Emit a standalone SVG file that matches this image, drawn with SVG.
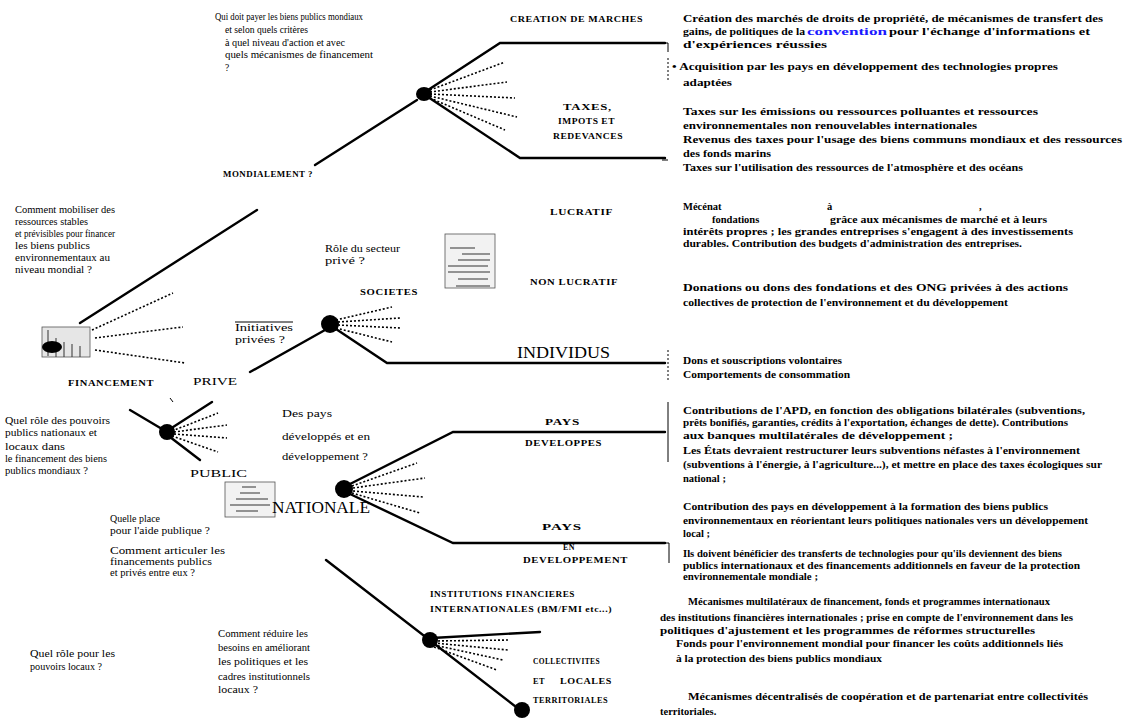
<svg xmlns="http://www.w3.org/2000/svg" width="1135" height="718" viewBox="0 0 1135 718">
<style>
.bg{fill:#fff}
.sl{stroke:#000;stroke-width:2.4;fill:none;stroke-linecap:round}
.dl{stroke:#000;stroke-width:1.6;fill:none;stroke-dasharray:2 2}
.th{stroke:#000;stroke-width:1;fill:none}
.nd{fill:#000}
.rt{font-family:"Liberation Serif",serif;font-size:10.5px;font-weight:bold;fill:#000}
.nt{font-family:"Liberation Serif",serif;font-size:9.5px;fill:#000}
.lb{font-family:"Liberation Serif",serif;font-size:9px;font-weight:bold;fill:#000;letter-spacing:0.5px}
.bl{font-family:"Liberation Serif",serif;font-size:11px;fill:#000}
.big{font-family:"Liberation Serif",serif;font-size:16px;fill:#000}
.lk{fill:#1a1aff}
.ic{fill:#e6e6e6;stroke:#555;stroke-width:0.8}
.il{stroke:#333;stroke-width:1}
</style>
<rect class="bg" x="0" y="0" width="1135" height="718"/>

<g id="connectors">
  <line class="sl" x1="80" y1="323" x2="257" y2="210"/>
  <line class="dl" x1="92" y1="330" x2="173" y2="293"/>
  <line class="dl" x1="95" y1="338" x2="183" y2="327"/>
  <line class="dl" x1="95" y1="350" x2="185" y2="363"/>
  <line class="sl" x1="315" y1="165" x2="417" y2="100"/>
  <polyline class="sl" points="428,90 500,43 665,43"/>
  <polyline class="sl" points="428,97 520,158 665,158"/>
  <line class="dl" x1="430" y1="90" x2="505" y2="62"/>
  <line class="dl" x1="430" y1="92" x2="507" y2="82"/>
  <line class="dl" x1="430" y1="94" x2="515" y2="98"/>
  <line class="dl" x1="430" y1="96" x2="517" y2="117"/>
  <line class="dl" x1="430" y1="98" x2="505" y2="130"/>
  <line class="sl" x1="250" y1="372" x2="325" y2="330"/>
  <polyline class="sl" points="336,329 387,363 665,363"/>
  <line class="dl" x1="336" y1="320" x2="392" y2="307"/>
  <line class="dl" x1="338" y1="322" x2="400" y2="318"/>
  <line class="dl" x1="338" y1="325" x2="400" y2="328"/>
  <line class="dl" x1="336" y1="328" x2="392" y2="342"/>
  <line class="sl" x1="130" y1="410" x2="162" y2="429"/>
  <line class="th" x1="170" y1="398" x2="173" y2="402"/>
  <line class="sl" x1="170" y1="429" x2="212" y2="402"/>
  <line class="dl" x1="172" y1="431" x2="218" y2="413"/>
  <line class="dl" x1="174" y1="432" x2="227" y2="425"/>
  <line class="dl" x1="174" y1="434" x2="227" y2="438"/>
  <line class="dl" x1="172" y1="436" x2="218" y2="452"/>
  <line class="sl" x1="170" y1="437" x2="200" y2="460"/>
  <polyline class="sl" points="350,484 453,432 665,432"/>
  <polyline class="sl" points="350,494 453,543 665,543"/>
  <line class="dl" x1="352" y1="486" x2="417" y2="463"/>
  <line class="dl" x1="353" y1="488" x2="425" y2="478"/>
  <line class="dl" x1="353" y1="491" x2="423" y2="497"/>
  <line class="dl" x1="352" y1="493" x2="420" y2="513"/>
  <line class="sl" x1="326" y1="560" x2="520" y2="710"/>
  <line class="sl" x1="432" y1="638" x2="540" y2="632"/>
  <line class="dl" x1="434" y1="641" x2="510" y2="640"/>
  <line class="dl" x1="434" y1="643" x2="508" y2="650"/>
  <line class="dl" x1="434" y1="645" x2="503" y2="660"/>
  <line class="dl" x1="434" y1="647" x2="497" y2="670"/>
  <polyline class="th" points="662,43 668,43 668,52"/>
  <line class="th" x1="668" y1="58" x2="668" y2="80" stroke-dasharray="2 2"/>
  <line class="th" x1="662" y1="160" x2="668" y2="160"/>
  <line class="th" x1="668" y1="350" x2="668" y2="382" stroke-dasharray="2 2"/>
  <line class="th" x1="668" y1="402" x2="668" y2="462"/>
  <polyline class="th" points="665,543 669,543 669,563"/>
</g>

<g id="root">
  <rect class="ic" x="42" y="327" width="48" height="30"/>
  <line class="il" x1="48" y1="330" x2="48" y2="356"/>
  <line class="il" x1="56" y1="338" x2="56" y2="357"/>
  <line class="il" x1="64" y1="342" x2="64" y2="357"/>
  <line class="il" x1="72" y1="344" x2="72" y2="357"/>
  <line class="il" x1="80" y1="346" x2="80" y2="357"/>
  <ellipse class="nd" cx="52" cy="347" rx="10" ry="6"/>
  <text class="lb" x="68" y="386" textLength="86" lengthAdjust="spacingAndGlyphs">FINANCEMENT</text>
  <text class="nt" x="15" y="213" textLength="100" lengthAdjust="spacingAndGlyphs">Comment mobiliser des</text>
  <text class="nt" x="15" y="225" textLength="73" lengthAdjust="spacingAndGlyphs">ressources stables</text>
  <text class="nt" x="15" y="237" textLength="100" lengthAdjust="spacingAndGlyphs">et prévisibles pour financer</text>
  <text class="nt" x="15" y="249" textLength="75" lengthAdjust="spacingAndGlyphs">les biens publics</text>
  <text class="nt" x="15" y="261" textLength="95" lengthAdjust="spacingAndGlyphs">environnementaux au</text>
  <text class="nt" x="15" y="273" textLength="77" lengthAdjust="spacingAndGlyphs">niveau mondial ?</text>
</g>

<g id="mondial">
  <ellipse class="nd" cx="424" cy="94" rx="8" ry="7"/>
  <text class="lb" x="223" y="177" textLength="90" lengthAdjust="spacingAndGlyphs">MONDIALEMENT ?</text>
  <text class="nt" x="215" y="20" textLength="148" lengthAdjust="spacingAndGlyphs">Qui doit payer les biens publics mondiaux</text>
  <text class="nt" x="225" y="33" textLength="83" lengthAdjust="spacingAndGlyphs">et selon quels critères</text>
  <text class="nt" x="225" y="46" textLength="120" lengthAdjust="spacingAndGlyphs">à quel niveau d'action et avec</text>
  <text class="nt" x="225" y="58" textLength="148" lengthAdjust="spacingAndGlyphs">quels mécanismes de financement</text>
  <text class="nt" x="225" y="71">?</text>
  <text class="lb" x="510" y="22" textLength="133" lengthAdjust="spacingAndGlyphs">CREATION DE MARCHES</text>
  <text class="lb" x="563" y="110" textLength="49" lengthAdjust="spacingAndGlyphs">TAXES,</text>
  <text class="lb" x="558" y="124" textLength="57" lengthAdjust="spacingAndGlyphs">IMPOTS ET</text>
  <text class="lb" x="553" y="139" textLength="70" lengthAdjust="spacingAndGlyphs">REDEVANCES</text>
</g>

<g id="prive">
  <text class="bl" x="193" y="385" textLength="44" lengthAdjust="spacingAndGlyphs">PRIVE</text>
  <line class="th" x1="235" y1="322" x2="293" y2="322" stroke-width="1.5"/>
  <text class="nt" x="235" y="331" textLength="58" lengthAdjust="spacingAndGlyphs">Initiatives</text>
  <text class="nt" x="235" y="343" textLength="50" lengthAdjust="spacingAndGlyphs">privées ?</text>
  <circle class="nd" cx="330" cy="324" r="9"/>
  <text class="nt" x="325" y="252" textLength="75" lengthAdjust="spacingAndGlyphs">Rôle du secteur</text>
  <text class="nt" x="325" y="264" textLength="40" lengthAdjust="spacingAndGlyphs">privé ?</text>
  <rect class="ic" x="445" y="234" width="50" height="54" fill-opacity="0.5"/>
  <line class="il" x1="450" y1="248" x2="475" y2="248"/>
  <line class="il" x1="462" y1="254" x2="490" y2="254"/>
  <line class="il" x1="458" y1="260" x2="490" y2="260"/>
  <line class="il" x1="448" y1="266" x2="488" y2="266"/>
  <line class="il" x1="448" y1="272" x2="490" y2="272"/>
  <line class="il" x1="458" y1="279" x2="488" y2="279"/>
  <line class="il" x1="456" y1="286" x2="490" y2="286"/>
  <text class="lb" x="360" y="295" textLength="58" lengthAdjust="spacingAndGlyphs">SOCIETES</text>
  <text class="lb" x="550" y="215" textLength="63" lengthAdjust="spacingAndGlyphs">LUCRATIF</text>
  <text class="lb" x="530" y="285" textLength="88" lengthAdjust="spacingAndGlyphs">NON LUCRATIF</text>
  <text class="big" x="517" y="358" textLength="93" lengthAdjust="spacingAndGlyphs">INDIVIDUS</text>
</g>

<g id="public">
  <circle class="nd" cx="167" cy="432" r="8"/>
  <text class="bl" x="190" y="477" textLength="57" lengthAdjust="spacingAndGlyphs">PUBLIC</text>
  <text class="nt" x="5" y="424" textLength="105" lengthAdjust="spacingAndGlyphs">Quel rôle des pouvoirs</text>
  <text class="nt" x="5" y="436" textLength="92" lengthAdjust="spacingAndGlyphs">publics nationaux et</text>
  <text class="nt" x="5" y="450" textLength="60" lengthAdjust="spacingAndGlyphs">locaux dans</text>
  <text class="nt" x="5" y="462" textLength="102" lengthAdjust="spacingAndGlyphs">le financement des biens</text>
  <text class="nt" x="5" y="474" textLength="83" lengthAdjust="spacingAndGlyphs">publics mondiaux ?</text>
  <text class="nt" x="110" y="522" textLength="50" lengthAdjust="spacingAndGlyphs">Quelle place</text>
  <text class="nt" x="110" y="534" textLength="100" lengthAdjust="spacingAndGlyphs">pour l'aide publique ?</text>
  <text class="nt" x="110" y="554" textLength="115" lengthAdjust="spacingAndGlyphs">Comment articuler les</text>
  <text class="nt" x="110" y="565" textLength="102" lengthAdjust="spacingAndGlyphs">financements publics</text>
  <text class="nt" x="110" y="576" textLength="85" lengthAdjust="spacingAndGlyphs">et privés entre eux ?</text>
</g>

<g id="nationale">
  <rect class="ic" x="225" y="482" width="50" height="35" fill-opacity="0.5"/>
  <line class="il" x1="242" y1="487" x2="256" y2="487"/>
  <line class="il" x1="240" y1="493" x2="260" y2="493"/>
  <line class="il" x1="236" y1="499" x2="268" y2="499"/>
  <line class="il" x1="230" y1="505" x2="270" y2="505"/>
  <line class="il" x1="236" y1="511" x2="258" y2="511"/>
  <circle class="nd" cx="344" cy="489" r="9"/>
  <text class="big" x="272" y="513" font-size="14" textLength="98" lengthAdjust="spacingAndGlyphs">NATIONALE</text>
  <text class="nt" x="282" y="417" textLength="50" lengthAdjust="spacingAndGlyphs">Des pays</text>
  <text class="nt" x="282" y="440" textLength="88" lengthAdjust="spacingAndGlyphs">développés et en</text>
  <text class="nt" x="282" y="460" textLength="86" lengthAdjust="spacingAndGlyphs">développement ?</text>
  <text class="lb" x="545" y="425" textLength="35" lengthAdjust="spacingAndGlyphs">PAYS</text>
  <text class="lb" x="525" y="446" textLength="77" lengthAdjust="spacingAndGlyphs">DEVELOPPES</text>
  <text class="lb" x="542" y="530" textLength="40" lengthAdjust="spacingAndGlyphs">PAYS</text>
  <text class="lb" x="563" y="550" textLength="12" lengthAdjust="spacingAndGlyphs">EN</text>
  <text class="lb" x="523" y="563" textLength="105" lengthAdjust="spacingAndGlyphs">DEVELOPPEMENT</text>
</g>

<g id="institutions">
  <circle class="nd" cx="430" cy="640" r="8"/>
  <circle class="nd" cx="522" cy="710" r="8"/>
  <text class="lb" x="430" y="597" textLength="145" lengthAdjust="spacingAndGlyphs">INSTITUTIONS FINANCIERES</text>
  <text class="lb" x="430" y="612" textLength="182" lengthAdjust="spacingAndGlyphs">INTERNATIONALES (BM/FMI etc...)</text>
  <text class="lb" x="533" y="664" textLength="67" lengthAdjust="spacingAndGlyphs">COLLECTIVITES</text>
  <text class="lb" x="533" y="684" textLength="12" lengthAdjust="spacingAndGlyphs">ET</text>
  <text class="lb" x="560" y="684" textLength="52" lengthAdjust="spacingAndGlyphs">LOCALES</text>
  <text class="lb" x="533" y="703" textLength="75" lengthAdjust="spacingAndGlyphs">TERRITORIALES</text>
  <text class="nt" x="30" y="657" textLength="85" lengthAdjust="spacingAndGlyphs">Quel rôle pour les</text>
  <text class="nt" x="30" y="670" textLength="72" lengthAdjust="spacingAndGlyphs">pouvoirs locaux ?</text>
  <text class="nt" x="218" y="637" textLength="90" lengthAdjust="spacingAndGlyphs">Comment réduire les</text>
  <text class="nt" x="218" y="651" textLength="92" lengthAdjust="spacingAndGlyphs">besoins en améliorant</text>
  <text class="nt" x="218" y="665" textLength="90" lengthAdjust="spacingAndGlyphs">les politiques et les</text>
  <text class="nt" x="218" y="680" textLength="92" lengthAdjust="spacingAndGlyphs">cadres institutionnels</text>
  <text class="nt" x="218" y="693" textLength="40" lengthAdjust="spacingAndGlyphs">locaux ?</text>
</g>

<g id="descriptions">
  <text class="rt" x="683" y="22" textLength="420" lengthAdjust="spacingAndGlyphs">Création des marchés de droits de propriété, de mécanismes de transfert des</text>
  <text class="rt" x="683" y="35" textLength="122" lengthAdjust="spacingAndGlyphs">gains, de politiques de la</text>
  <text class="rt lk" x="807" y="35" textLength="80" lengthAdjust="spacingAndGlyphs">convention</text>
  <text class="rt" x="889" y="35" textLength="201" lengthAdjust="spacingAndGlyphs">pour l'échange d'informations et</text>
  <text class="rt" x="683" y="48" textLength="144" lengthAdjust="spacingAndGlyphs">d'expériences réussies</text>
  <text class="rt" x="672" y="70" textLength="386" lengthAdjust="spacingAndGlyphs">• Acquisition par les pays en développement des technologies propres</text>
  <text class="rt" x="683" y="86" textLength="49" lengthAdjust="spacingAndGlyphs">adaptées</text>
  <text class="rt" x="683" y="115" textLength="355" lengthAdjust="spacingAndGlyphs">Taxes sur les émissions ou ressources polluantes et ressources</text>
  <text class="rt" x="683" y="129" textLength="294" lengthAdjust="spacingAndGlyphs">environnementales non renouvelables internationales</text>
  <text class="rt" x="683" y="143" textLength="439" lengthAdjust="spacingAndGlyphs">Revenus des taxes pour l'usage des biens communs mondiaux et des ressources</text>
  <text class="rt" x="683" y="157" textLength="88" lengthAdjust="spacingAndGlyphs">des fonds marins</text>
  <text class="rt" x="683" y="171" textLength="340" lengthAdjust="spacingAndGlyphs">Taxes sur l'utilisation des ressources de l'atmosphère et des océans</text>

  <text class="rt" x="683" y="210">Mécénat</text>
  <text class="rt" x="827" y="210">à</text>
  <text class="rt" x="979" y="210">,</text>
  <text class="rt" x="712" y="223">fondations</text>
  <text class="rt" x="830" y="223" textLength="217" lengthAdjust="spacingAndGlyphs">grâce aux mécanismes de marché et à leurs</text>
  <text class="rt" x="683" y="235" textLength="390" lengthAdjust="spacingAndGlyphs">intérêts propres ; les grandes entreprises s'engagent à des investissements</text>
  <text class="rt" x="683" y="247" textLength="339" lengthAdjust="spacingAndGlyphs">durables. Contribution des budgets d'administration des entreprises.</text>
  <text class="rt" x="683" y="291" textLength="385" lengthAdjust="spacingAndGlyphs">Donations ou dons des fondations et des ONG privées à des actions</text>
  <text class="rt" x="683" y="306" textLength="325" lengthAdjust="spacingAndGlyphs">collectives de protection de l'environnement et du développement</text>
  <text class="rt" x="683" y="364" textLength="159" lengthAdjust="spacingAndGlyphs">Dons et souscriptions volontaires</text>
  <text class="rt" x="683" y="378" textLength="167" lengthAdjust="spacingAndGlyphs">Comportements de consommation</text>

  <text class="rt" x="683" y="414" textLength="402" lengthAdjust="spacingAndGlyphs">Contributions de l'APD, en fonction des obligations bilatérales (subventions,</text>
  <text class="rt" x="683" y="426" textLength="385" lengthAdjust="spacingAndGlyphs">prêts bonifiés, garanties, crédits à l'exportation, échanges de dette). Contributions</text>
  <text class="rt" x="683" y="439" textLength="270" lengthAdjust="spacingAndGlyphs">aux banques multilatérales de développement ;</text>
  <text class="rt" x="683" y="454" textLength="397" lengthAdjust="spacingAndGlyphs">Les États devraient restructurer leurs subventions néfastes à l'environnement</text>
  <text class="rt" x="683" y="468" textLength="419" lengthAdjust="spacingAndGlyphs">(subventions à l'énergie, à l'agriculture...), et mettre en place des taxes écologiques sur</text>
  <text class="rt" x="683" y="482">national ;</text>
  <text class="rt" x="683" y="510" textLength="365" lengthAdjust="spacingAndGlyphs">Contribution des pays en développement à la formation des biens publics</text>
  <text class="rt" x="683" y="524" textLength="405" lengthAdjust="spacingAndGlyphs">environnementaux en réorientant leurs politiques nationales vers un développement</text>
  <text class="rt" x="683" y="537">local ;</text>
  <text class="rt" x="683" y="557" textLength="379" lengthAdjust="spacingAndGlyphs">Ils doivent bénéficier des transferts de technologies pour qu'ils deviennent des biens</text>
  <text class="rt" x="683" y="569" textLength="397" lengthAdjust="spacingAndGlyphs">publics internationaux et des financements additionnels en faveur de la protection</text>
  <text class="rt" x="683" y="580" textLength="135" lengthAdjust="spacingAndGlyphs">environnementale mondiale ;</text>

  <text class="rt" x="688" y="605" textLength="362" lengthAdjust="spacingAndGlyphs">Mécanismes multilatéraux de financement, fonds et programmes internationaux</text>
  <text class="rt" x="660" y="621" textLength="413" lengthAdjust="spacingAndGlyphs">des institutions financières internationales ; prise en compte de l'environnement dans les</text>
  <text class="rt" x="660" y="634" textLength="375" lengthAdjust="spacingAndGlyphs">politiques d'ajustement et les programmes de réformes structurelles</text>
  <text class="rt" x="676" y="647" textLength="387" lengthAdjust="spacingAndGlyphs">Fonds pour l'environnement mondial pour financer les coûts additionnels liés</text>
  <text class="rt" x="676" y="662" textLength="206" lengthAdjust="spacingAndGlyphs">à la protection des biens publics mondiaux</text>
  <text class="rt" x="688" y="700" textLength="400" lengthAdjust="spacingAndGlyphs">Mécanismes décentralisés de coopération et de partenariat entre collectivités</text>
  <text class="rt" x="660" y="715">territoriales.</text>
</g>
</svg>
